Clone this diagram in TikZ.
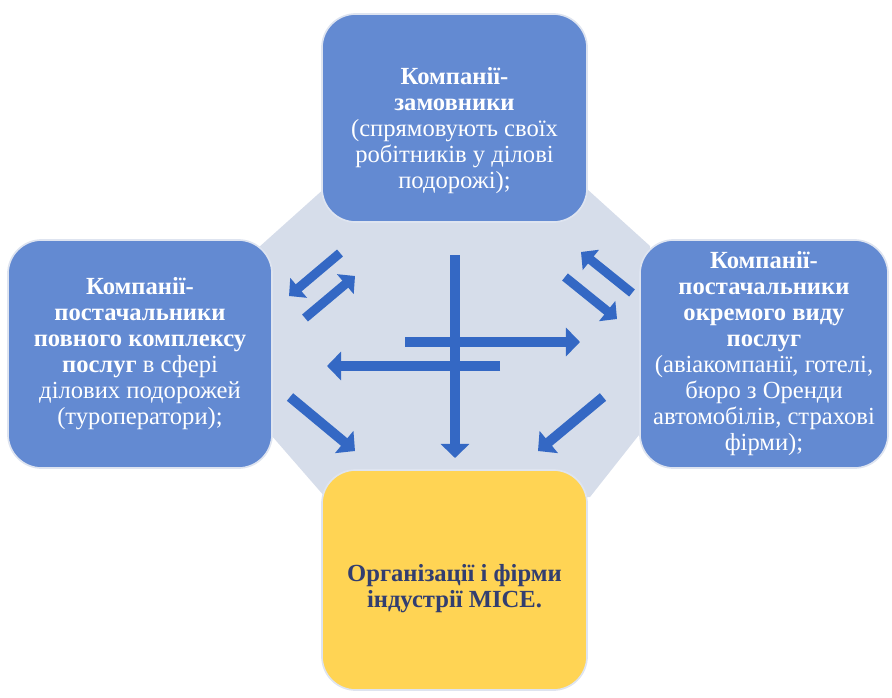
\documentclass[tikz,border=0pt]{standalone}
\usepackage{fontspec}
\setmainfont{Liberation Serif}
\usetikzlibrary{arrows.meta}
\definecolor{boxblue}{RGB}{99,138,210}
\definecolor{boxedge}{RGB}{222,228,240}
\definecolor{boxyellow}{RGB}{255,212,84}
\definecolor{linkblue}{RGB}{52,104,196}
\definecolor{octafill}{RGB}{214,221,234}
\definecolor{micetext}{RGB}{50,62,112}
\begin{document}
\begin{tikzpicture}[
    x=0.025cm, y=-0.025cm,
    party/.style={draw=boxedge, line width=1.2pt, fill=boxblue, rounded corners=24pt,
      text=white, align=center, font=\fontsize{17.5}{18.5}\selectfont},
    mice/.style={party, fill=boxyellow, text=micetext},
    link/.style={linkblue, line width=7pt, -{Triangle[width=20pt,length=10pt]}},
    pairlink/.style={link, line width=6.5pt, -{Triangle[width=18pt,length=9pt]}}
  ]
  \useasboundingbox (0,0) rectangle (892,697);

  % octagon behind the four parties
  \fill[octafill] (345,170) -- (566,170) -- (650,246) -- (650,421)
    -- (590,497) -- (325,497) -- (258,420) -- (258,248) -- cycle;

  \node[party, minimum width=6.625cm, minimum height=5.2cm] (clients) at (454.5,118)
    {\rule{0pt}{30pt}\textbf{Компанії-}\\ \textbf{замовники}\\ (спрямовують своїх\\ робітників у ділові\\ подорожі);};
  \node[party, minimum width=6.6cm, minimum height=5.7cm] (touroper) at (140,354)
    {\textbf{Компанії-}\\ \textbf{постачальники}\\ \textbf{повного комплексу}\\ \textbf{послуг} в сфері\\ ділових подорожей\\ (туроператори);};
  \node[party, minimum width=6.2cm, minimum height=5.7cm] (suppliers) at (764,354)
    {\textbf{Компанії-}\\ \textbf{постачальники}\\ \textbf{окремого виду}\\ \textbf{послуг}\\ (авіакомпанії, готелі,\\ бюро з Оренди\\ автомобілів, страхові\\ фірми);};
  \node[mice, minimum width=6.625cm, minimum height=5.5cm] (mice) at (454.5,580)
    {\rule{0pt}{24pt}\textbf{Організації і фірми}\\ \textbf{індустрії MICE.}};

  % arrow ends
  \coordinate (vTop) at (455,255);
  \coordinate (vBot) at (455,458);
  \coordinate (hrA) at (405,342);
  \coordinate (hrB) at (580,342);
  \coordinate (hlA) at (500,366);
  \coordinate (hlB) at (327,366);
  \coordinate (ulA) at (340,253);
  \coordinate (ulB) at (289,296);
  \coordinate (ulC) at (305,318);
  \coordinate (ulD) at (355,276);
  \coordinate (urA) at (632,293);
  \coordinate (urB) at (581,252);
  \coordinate (urC) at (565,277);
  \coordinate (urD) at (617,319);
  \coordinate (llA) at (290,397);
  \coordinate (llB) at (355,451);
  \coordinate (lrA) at (603,397);
  \coordinate (lrB) at (538,451);

  \draw[link] (vTop) -- (vBot);
  \draw[link] (hrA) -- (hrB);
  \draw[link] (hlA) -- (hlB);
  \draw[pairlink] (ulA) -- (ulB);
  \draw[pairlink] (ulC) -- (ulD);
  \draw[pairlink] (urA) -- (urB);
  \draw[pairlink] (urC) -- (urD);
  \draw[link] (llA) -- (llB);
  \draw[link] (lrA) -- (lrB);
\end{tikzpicture}
\end{document}
